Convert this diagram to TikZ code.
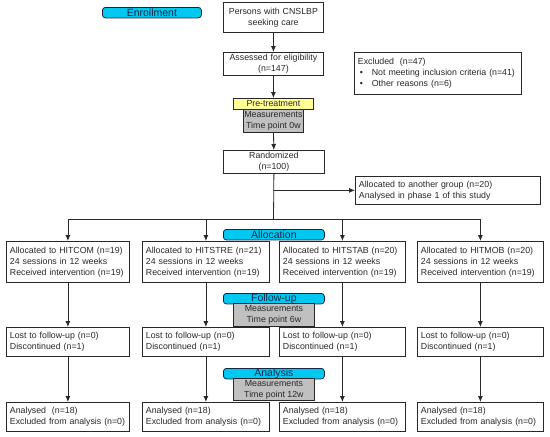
\documentclass[tikz,border=0pt]{standalone}
\usepackage{fontspec}
\setmainfont{Liberation Sans}
\usetikzlibrary{arrows.meta}
\definecolor{labcyan}{RGB}{0,200,240}
\definecolor{labedge}{RGB}{20,40,70}
\definecolor{preyellow}{RGB}{255,255,150}
\definecolor{measgray}{RGB}{192,192,192}
\definecolor{ink}{RGB}{40,40,40}
\tikzset{
  box/.style={draw=ink, fill=white, line width=0.8pt, inner xsep=3.5pt, inner ysep=2pt,
    font=\fontsize{8.8}{11}\selectfont, text=ink, align=left, anchor=north west},
  cbox/.style={box, align=center},
  stage/.style={draw=labedge, fill=labcyan, rounded corners=3pt, line width=0.8pt,
    minimum width=101pt, minimum height=10.5pt, inner sep=0pt,
    font=\fontsize{10.5}{11}\selectfont, text=labedge, anchor=north west},
  meas/.style={draw=ink, fill=measgray, line width=0.8pt, inner sep=0pt,
    font=\fontsize{8.8}{11}\selectfont, text=ink, align=center, anchor=north west},
  arr/.style={draw=ink, line width=0.8pt, -{Latex[length=6pt,width=5pt]}},
  ln/.style={draw=ink, line width=0.8pt}
}
\begin{document}
\begin{tikzpicture}[x=1pt,y=-1pt]
\useasboundingbox (0,0) rectangle (550,437);
% enrollment
\node[cbox, text width=93pt, minimum height=30pt] (persons) at (223,2) {Persons with CNSLBP\\seeking care};
\node[cbox, text width=93pt, minimum height=23pt] (assess) at (223,52) {Assessed for eligibility\\(n=147)};
\node[box, text width=160pt, minimum height=42pt] (excl) at (354,52) {Excluded\ \ (n=47)\\\hspace*{2pt}\makebox[12pt][l]{•}Not meeting inclusion criteria (n=41)\\\hspace*{2pt}\makebox[12pt][l]{•}Other reasons (n=6)};
\node[draw=ink, fill=preyellow, line width=0.8pt, minimum width=80pt, minimum height=10.5pt, inner sep=0pt, font=\fontsize{8.8}{11}\selectfont, text=ink, anchor=north west] (pre) at (233,98) {Pre-treatment};
\node[meas, minimum width=60pt, minimum height=23pt] (meas0) at (243,108.5) {Measurements\\Time point 0w};
\node[cbox, text width=94pt, minimum height=23pt] (rand) at (223,150) {Randomized\\(n=100)};
\node[box, text width=178pt, minimum height=28pt] (other) at (355,176) {Allocated to another group (n=20)\\Analysed in phase 1 of this study};
% allocation row
\node[box, text width=116pt, minimum height=41pt] (a1) at (6,241) {Allocated to HITCOM (n=19)\\24 sessions in 12 weeks\\Received intervention (n=19)};
\node[box, text width=120pt, minimum height=41pt] (a2) at (142,241) {Allocated to HITSTRE (n=21)\\24 sessions in 12 weeks\\Received intervention (n=19)};
\node[box, text width=119pt, minimum height=41pt] (a3) at (279,241) {Allocated to HITSTAB (n=20)\\24 sessions in 12 weeks\\Received intervention (n=19)};
\node[box, text width=119pt, minimum height=41pt] (a4) at (417,241) {Allocated to HITMOB (n=20)\\24 sessions in 12 weeks\\Received intervention (n=19)};
% follow-up row
\node[box, text width=116pt, minimum height=29pt] (l1) at (6,327) {Lost to follow-up (n=0)\\Discontinued (n=1)};
\node[box, text width=120pt, minimum height=29pt] (l2) at (142,327) {Lost to follow-up (n=0)\\Discontinued (n=1)};
\node[box, text width=119pt, minimum height=29pt] (l3) at (279,327) {Lost to follow-up (n=0)\\Discontinued (n=1)};
\node[box, text width=119pt, minimum height=29pt] (l4) at (417,327) {Lost to follow-up (n=0)\\Discontinued (n=1)};
% analysis row
\node[box, text width=116pt, minimum height=29pt] (n1) at (6,402) {Analysed\ \ (n=18)\\Excluded from analysis (n=0)};
\node[box, text width=120pt, minimum height=29pt] (n2) at (142,402) {Analysed (n=18)\\Excluded from analysis (n=0)};
\node[box, text width=119pt, minimum height=29pt] (n3) at (279,402) {Analysed (n=18)\\Excluded from analysis (n=0)};
\node[box, text width=119pt, minimum height=29pt] (n4) at (417,402) {Analysed (n=18)\\Excluded from analysis (n=0)};
% connectors
\draw[arr] (persons) -- (assess);
\draw[arr] (assess) -- (pre);
\draw[arr] (meas0) -- (rand);
\coordinate (split) at (273.5,219);
\draw[ln] (rand.south) -- (split);
\draw[arr] (rand.south |- other.west) -- (other.west);
\draw[arr] (split) -| (a1.north);
\draw[arr] (split) -| (a2.north);
\draw[arr] (split) -| (a3.north);
\draw[arr] (split) -| (a4.north);
\foreach \i in {1,2,3,4}{
  \draw[arr] (a\i) -- (l\i);
  \draw[arr] (l\i) -- (n\i);
}
% stage labels
\node[stage, minimum width=99pt] (enr) at (102,7) {Enrollment};
\node[stage] (alloc) at (223,229) {Allocation};
\node[stage] (fup) at (223,293) {Follow-up};
\node[meas, minimum width=81pt, minimum height=23pt] (meas6) at (233,303) {Measurements\\Time point 6w};
\node[stage] (anal) at (223,368) {Analysis};
\node[meas, minimum width=81pt, minimum height=22pt] (meas12) at (233,378) {Measurements\\Time point 12w};
\end{tikzpicture}
\end{document}
